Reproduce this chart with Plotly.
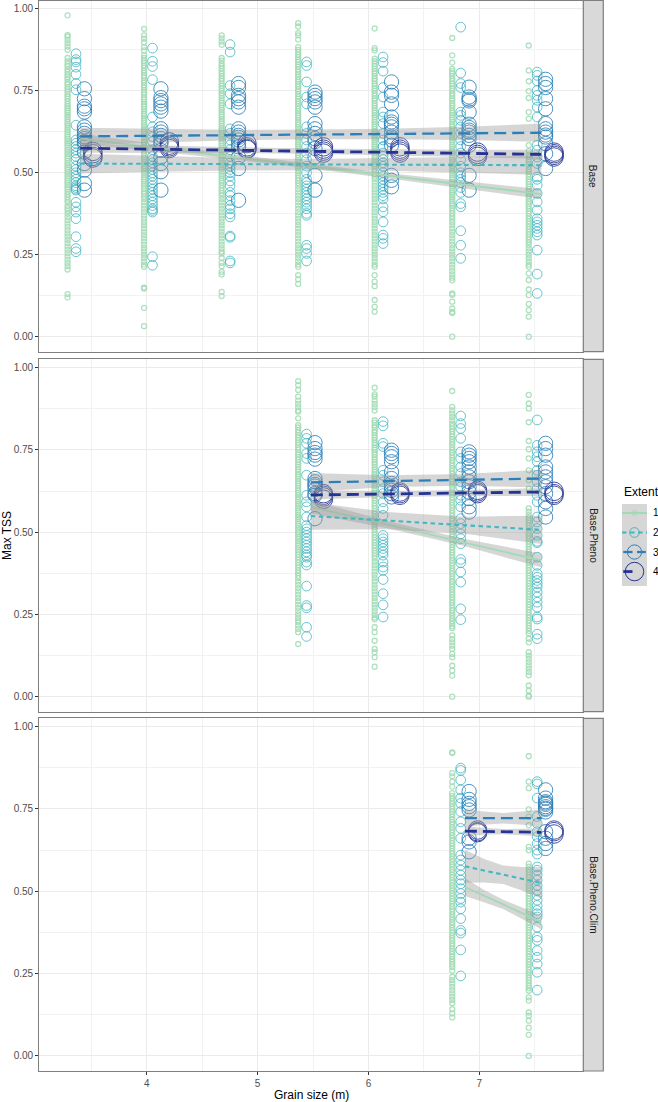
import plotly.graph_objects as go

GRAINS = [3.40, 4.09, 4.79, 5.48, 6.17, 6.87, 7.56]
EXTENTS = ["1", "2", "3", "4"]
DODGE = [-0.114, -0.038, 0.038, 0.114]
COLORS = ["#a1dab4", "#41b6c4", "#2c7fb8", "#253494"]
PANELS = ["Base", "Base.Pheno", "Base.Pheno.Clim"]
Y_TICKS = [0, 0.25, 0.5, 0.75, 1]
X_TICKS = [4, 5, 6, 7]

# Panel 1, one list per grain size
P1_E1 = [
 [.98,.92,.915,.905,.895,.885,.875,.85,.84,.832,.825,.815,.808,.80,.792,.785,.776,.77,.762,.755,.748,.74,.733,.726,.718,.71,.703,.697,.69,.683,.676,.67,.663,.656,.65,.644,.637,.63,.624,.617,.61,.604,.597,.59,.584,.577,.57,.564,.557,.55,.544,.537,.53,.524,.517,.51,.503,.497,.49,.483,.476,.47,.463,.456,.45,.442,.434,.426,.418,.41,.40,.392,.384,.375,.365,.355,.345,.335,.325,.315,.305,.295,.285,.275,.265,.255,.245,.235,.225,.215,.205,.13,.12],
 [.939,.919,.909,.898,.883,.873,.858,.85,.842,.835,.827,.82,.812,.805,.797,.79,.782,.775,.767,.76,.752,.745,.738,.73,.723,.716,.709,.702,.695,.688,.68,.674,.667,.66,.653,.646,.64,.633,.626,.62,.613,.606,.6,.593,.586,.58,.573,.566,.56,.553,.546,.54,.533,.526,.52,.513,.506,.5,.493,.486,.48,.473,.466,.46,.452,.444,.436,.428,.42,.41,.40,.39,.38,.37,.36,.35,.34,.33,.32,.31,.30,.29,.28,.27,.26,.25,.24,.23,.22,.213,.15,.147,.088,.032],
 [.919,.91,.90,.89,.85,.842,.833,.826,.818,.81,.803,.795,.787,.78,.772,.765,.757,.75,.743,.736,.728,.72,.713,.706,.698,.692,.685,.678,.671,.664,.657,.65,.643,.636,.63,.623,.616,.61,.603,.596,.59,.583,.576,.57,.563,.556,.55,.543,.536,.53,.523,.516,.51,.503,.496,.49,.483,.476,.47,.462,.454,.446,.438,.43,.42,.41,.40,.39,.38,.37,.36,.35,.34,.33,.32,.31,.30,.29,.28,.27,.26,.254,.24,.225,.215,.198,.19,.137,.124],
 [.956,.946,.926,.919,.906,.883,.875,.868,.86,.853,.845,.838,.83,.823,.815,.808,.80,.792,.785,.778,.77,.763,.755,.748,.74,.733,.726,.718,.71,.703,.696,.689,.682,.675,.668,.661,.654,.647,.64,.633,.626,.62,.613,.606,.6,.593,.586,.58,.573,.566,.56,.553,.546,.54,.533,.526,.52,.513,.506,.5,.492,.484,.476,.468,.46,.45,.44,.43,.42,.41,.40,.39,.38,.37,.36,.35,.34,.33,.32,.31,.30,.29,.28,.27,.26,.25,.24,.23,.22,.213,.188,.175,.161],
 [.94,.88,.873,.848,.84,.832,.825,.817,.81,.803,.795,.787,.78,.772,.765,.757,.75,.742,.735,.727,.72,.712,.705,.698,.69,.683,.676,.669,.662,.655,.648,.641,.634,.627,.62,.613,.606,.6,.593,.586,.58,.573,.566,.56,.553,.546,.54,.533,.526,.52,.512,.504,.496,.488,.48,.47,.46,.45,.44,.43,.42,.41,.40,.39,.38,.37,.36,.35,.34,.33,.32,.31,.30,.29,.28,.27,.26,.25,.24,.23,.22,.213,.188,.168,.154,.112,.091,.076],
 [.911,.858,.836,.817,.81,.803,.795,.787,.78,.772,.765,.757,.75,.742,.735,.727,.72,.712,.705,.698,.69,.683,.676,.669,.662,.655,.648,.641,.634,.627,.62,.613,.606,.6,.593,.586,.58,.573,.566,.56,.553,.546,.54,.533,.526,.52,.513,.506,.5,.493,.486,.48,.473,.466,.46,.453,.446,.44,.433,.426,.42,.413,.406,.40,.392,.384,.376,.368,.36,.35,.34,.33,.32,.31,.30,.29,.28,.27,.26,.25,.24,.23,.22,.21,.20,.19,.18,.172,.132,.128,.107,.086,.076,.072,0],
 [.888,.812,.779,.749,.728,.685,.665,.584,.566,.555,.548,.54,.533,.526,.518,.51,.503,.496,.488,.48,.473,.466,.458,.45,.443,.436,.428,.42,.413,.406,.398,.39,.383,.376,.368,.36,.352,.344,.336,.328,.32,.312,.304,.296,.288,.28,.27,.26,.25,.24,.23,.22,.213,.193,.173,.144,.127,.10,.081,.061,0],
]
P1_E2 = [
 [.863,.845,.838,.822,.80,.772,.753,.645,.60,.59,.58,.57,.56,.55,.54,.52,.51,.50,.49,.48,.47,.46,.455,.45,.447,.41,.396,.38,.36,.305,.269,.259],
 [.88,.84,.824,.784,.67,.64,.625,.61,.595,.57,.55,.54,.53,.52,.51,.50,.49,.48,.47,.46,.45,.44,.43,.42,.41,.40,.39,.385,.38,.244,.218],
 [.891,.868,.766,.741,.71,.634,.62,.60,.585,.57,.55,.53,.52,.51,.50,.49,.475,.46,.44,.43,.415,.40,.39,.375,.365,.307,.303,.231,.225],
 [.838,.827,.777,.731,.71,.64,.62,.60,.58,.56,.54,.52,.50,.48,.47,.46,.45,.44,.43,.42,.41,.40,.39,.37,.376,.279,.269,.254,.231],
 [.853,.836,.81,.76,.731,.685,.67,.65,.62,.60,.58,.56,.54,.579,.55,.53,.52,.50,.49,.48,.47,.46,.45,.44,.43,.42,.396,.381,.35,.31,.30,.284],
 [.944,.804,.772,.76,.685,.675,.66,.64,.62,.60,.58,.56,.54,.52,.50,.49,.48,.47,.455,.44,.406,.396,.323,.279,.239],
 [.807,.797,.78,.751,.736,.721,.70,.67,.584,.569,.548,.528,.487,.48,.462,.437,.411,.386,.36,.35,.34,.33,.32,.31,.264,.191,.132],
]
P1_E3 = [
 [.756,.726,.703,.695,.685,.64,.63,.62,.61,.604,.595,.589,.563,.528,.508,.467,.447],
 [.756,.729,.72,.71,.70,.688,.634,.624,.614,.604,.595,.589,.568,.548,.528,.503,.447],
 [.772,.76,.736,.726,.716,.70,.634,.624,.614,.608,.60,.59,.579,.548,.513,.416],
 [.746,.736,.726,.716,.70,.65,.634,.62,.604,.595,.574,.548,.492,.447],
 [.777,.746,.736,.71,.67,.655,.648,.64,.624,.609,.60,.584,.492,.477,.457],
 [.761,.731,.724,.719,.685,.648,.638,.63,.624,.614,.604,.584,.492,.447],
 [.785,.772,.76,.726,.695,.65,.634,.624,.615,.609,.589,.558,.513],
]
P1_E4 = [
 [.565,.558,.55,.545],
 [.594,.584,.579,.574],
 [.589,.579,.574,.571],
 [.579,.572,.566,.56],
 [.579,.572,.566,.56],
 [.563,.556,.55],
 [.563,.558,.553,.548],
]
# Panel 2, grains 5.48 to 7.56
P2_E1 = [
 [.959,.947,.932,.912,.90,.89,.88,.87,.866,.846,.825,.818,.81,.803,.795,.787,.78,.772,.765,.757,.75,.743,.736,.728,.72,.713,.706,.698,.69,.683,.676,.669,.662,.655,.648,.641,.634,.627,.62,.613,.606,.6,.593,.586,.58,.573,.566,.56,.553,.546,.54,.533,.526,.52,.513,.506,.5,.493,.486,.48,.473,.466,.46,.453,.446,.44,.432,.424,.416,.408,.40,.392,.384,.376,.368,.36,.35,.34,.33,.32,.31,.30,.29,.28,.27,.26,.25,.24,.232,.226,.216,.206,.196,.16],
 [.939,.919,.912,.90,.89,.88,.87,.84,.833,.825,.818,.81,.803,.795,.787,.78,.772,.765,.757,.75,.743,.736,.728,.72,.713,.706,.698,.69,.683,.676,.669,.662,.655,.648,.641,.634,.627,.62,.612,.604,.596,.588,.58,.572,.564,.556,.548,.54,.532,.524,.516,.508,.50,.492,.484,.476,.468,.46,.452,.444,.436,.428,.42,.41,.40,.39,.38,.37,.36,.35,.34,.33,.32,.31,.30,.29,.28,.27,.26,.25,.24,.235,.211,.196,.17,.145,.135,.12,.091],
 [.929,.881,.87,.86,.85,.84,.83,.822,.814,.806,.798,.79,.782,.774,.766,.758,.75,.742,.734,.726,.718,.71,.702,.694,.686,.678,.67,.662,.654,.646,.638,.63,.622,.614,.606,.598,.59,.582,.574,.566,.558,.55,.542,.534,.526,.518,.51,.502,.494,.486,.478,.47,.462,.454,.446,.438,.43,.422,.414,.406,.398,.39,.382,.374,.366,.358,.35,.342,.334,.326,.318,.31,.302,.294,.286,.278,.27,.262,.254,.246,.238,.23,.222,.214,.208,.186,.175,.165,.155,.145,.13,.12,.094,.079,.064,0],
 [.917,.891,.876,.834,.777,.752,.724,.688,.658,.632,.572,.562,.552,.544,.536,.528,.52,.512,.504,.496,.488,.48,.472,.464,.456,.448,.44,.432,.424,.416,.408,.40,.392,.384,.376,.368,.36,.352,.344,.336,.328,.32,.312,.304,.296,.288,.28,.272,.264,.256,.248,.24,.232,.224,.216,.208,.20,.192,.176,.165,.135,.125,.115,.105,.095,.085,.075,.065,.034,.018,.003,0],
]
P2_E2 = [
 [.798,.785,.77,.739,.724,.673,.612,.592,.577,.546,.52,.51,.50,.49,.48,.47,.46,.45,.44,.43,.424,.409,.40,.336,.277,.27,.211,.183],
 [.836,.823,.77,.76,.688,.673,.653,.632,.617,.592,.572,.551,.49,.48,.47,.46,.45,.44,.43,.409,.394,.384,.356,.313,.279,.242],
 [.853,.83,.815,.785,.744,.724,.698,.678,.653,.638,.612,.597,.577,.541,.526,.511,.495,.48,.465,.417,.407,.379,.348,.267,.234],
 [.841,.764,.744,.729,.714,.688,.673,.653,.632,.612,.592,.546,.531,.511,.49,.472,.468,.424,.399,.374,.363,.353,.343,.333,.318,.303,.287,.272,.242,.236,.19,.176],
]
P2_E3 = [
 [.772,.754,.742,.734,.722,.663,.653,.645,.64,.63,.617,.612,.541],
 [.749,.739,.729,.714,.683,.663,.648,.638,.627,.617,.607],
 [.744,.734,.724,.714,.698,.683,.668,.653,.638,.622,.602,.577,.561],
 [.77,.754,.734,.698,.683,.668,.653,.638,.617,.592,.572,.546],
]
P2_E4 = [
 [.617,.612,.607,.60],
 [.622,.617,.612],
 [.627,.622,.617],
 [.624,.617,.612],
]
# Panel 3, grains 6.87 and 7.56
P3_E1 = [
 [.922,.92,.859,.849,.833,.818,.798,.79,.782,.774,.766,.758,.75,.742,.734,.726,.718,.71,.702,.694,.686,.678,.67,.662,.654,.646,.638,.63,.622,.614,.606,.598,.59,.582,.574,.566,.558,.55,.542,.534,.526,.518,.51,.502,.494,.486,.478,.47,.462,.454,.446,.438,.43,.422,.414,.406,.398,.39,.382,.374,.366,.358,.35,.342,.334,.326,.318,.31,.302,.294,.286,.278,.27,.259,.24,.23,.22,.21,.20,.19,.18,.17,.16,.142,.129,.117],
 [.91,.833,.813,.749,.727,.701,.635,.625,.584,.575,.566,.558,.55,.542,.534,.526,.518,.51,.502,.494,.486,.478,.47,.462,.454,.446,.438,.43,.422,.414,.406,.398,.39,.382,.374,.366,.358,.35,.342,.334,.326,.318,.31,.302,.294,.286,.278,.27,.262,.254,.246,.238,.23,.222,.214,.206,.198,.178,.168,.132,.122,.107,.086,.064,0],
]
P3_E2 = [
 [.874,.867,.838,.808,.783,.767,.742,.711,.691,.661,.61,.595,.579,.564,.549,.534,.523,.508,.493,.478,.467,.447,.417,.381,.373,.322,.243],
 [.833,.826,.783,.727,.706,.681,.666,.645,.625,.613,.574,.564,.549,.534,.518,.503,.488,.473,.457,.442,.432,.422,.391,.361,.351,.32,.30,.279,.254,.20],
]
P3_E3 = [
 [.803,.779,.767,.757,.747,.661,.65,.62],
 [.808,.783,.772,.768,.764,.757,.752,.749,.741,.681,.661,.645,.63],
]
P3_E4 = [
 [.686,.681,.678],
 [.686,.681,.674],
]

# Fitted trend lines and their ribbons (half width)
FIT1_X = GRAINS
FIT1 = [[.604,.576,.548,.520,.491,.463,.435],
        [.528,.527,.526,.525,.525,.524,.523],
        [.611,.613,.615,.617,.618,.620,.622],
        [.575,.572,.569,.566,.562,.559,.556]]
HW1 = [[.016,.011,.008,.007,.008,.011,.015],
       [.030,.024,.019,.017,.019,.024,.030],
       [.026,.020,.016,.015,.016,.020,.028],
       [.014,.011,.009,.008,.009,.011,.014]]
FIT2_X = [5.48, 6.17, 6.87, 7.56]
FIT2 = [[.577,.523,.468,.414],
        [.549,.535,.521,.507],
        [.651,.655,.659,.663],
        [.613,.616,.619,.622]]
HW2 = [[.020,.011,.011,.021],
       [.042,.026,.026,.043],
       [.029,.018,.018,.027],
       [.014,.009,.009,.012]]
FIT3_X = [6.87, 7.04, 7.215, 7.39, 7.56]
FIT3 = [[.513,.486,.460,.433,.406],
        [.576,.563,.550,.538,.525],
        [.722,.722,.722,.722,.722],
        [.683,.682,.681,.680,.679]]
HW3 = [[.027,.019,.014,.017,.021],
       [.050,.036,.028,.036,.048],
       [.027,.020,.016,.020,.027],
       [.014,.010,.008,.010,.012]]

PTS = [
    [P1_E1, P1_E2, P1_E3, P1_E4],
    [P2_E1, P2_E2, P2_E3, P2_E4],
    [P3_E1, P3_E2, P3_E3, P3_E4],
]
PANEL_GRAINS = [GRAINS, GRAINS[3:], GRAINS[5:]]
FITS = [(FIT1_X, FIT1, HW1), (FIT2_X, FIT2, HW2), (FIT3_X, FIT3, HW3)]

W, H = 658, 1102
SIZES = [5, 9.7, 14.3, 18.5]
STROKE = [1.3, 1, 1, 1]
LINE_W = [1.9, 2.1, 2.3, 2.8]
DASH = ["solid", "4.5px,3.5px", "12px,6px", "12px,6px"]
OPAC = [0.85, 0.8, 0.85, 0.85]
RIBBON = "rgba(153,153,153,0.4)"

fig = go.Figure()
for p in range(3):
    ax = "" if p == 0 else str(p + 1)
    for e in range(4):
        xs, ys = [], []
        for g, vals in zip(PANEL_GRAINS[p], PTS[p][e]):
            xs += [g + DODGE[e]] * len(vals)
            ys += vals
        fig.add_trace(go.Scatter(
            x=xs, y=ys, mode="markers", xaxis="x" + ax, yaxis="y" + ax, showlegend=False,
            marker=dict(symbol="circle-open", size=SIZES[e], color=COLORS[e],
                        opacity=OPAC[e], line=dict(width=STROKE[e], color=COLORS[e]))))
    fx, fit, hw = FITS[p]
    for e in range(4):
        upper = [f + h for f, h in zip(fit[e], hw[e])]
        lower = [f - h for f, h in zip(fit[e], hw[e])]
        fig.add_trace(go.Scatter(
            x=list(fx) + list(fx)[::-1], y=upper + lower[::-1], mode="lines", fill="toself",
            fillcolor=RIBBON, line=dict(width=0), xaxis="x" + ax, yaxis="y" + ax,
            showlegend=False, hoverinfo="skip"))
        fig.add_trace(go.Scatter(
            x=fx, y=fit[e], mode="lines", xaxis="x" + ax, yaxis="y" + ax, showlegend=False,
            line=dict(color=COLORS[e], width=LINE_W[e], dash=DASH[e])))

# Legend keys, on their own small axes
LEG_ROWS = [1, 2, 3, 4]
LEG_X = [[0, 1], [0, 1], [0.05, 0.42, None, 0.6, 0.95], [0.05, 0.42]]
for e in range(4):
    y = [LEG_ROWS[e] if v is not None else None for v in LEG_X[e]]
    fig.add_trace(go.Scatter(x=LEG_X[e], y=y, mode="lines", xaxis="x4", yaxis="y4", showlegend=False,
                             line=dict(color=COLORS[e], width=LINE_W[e], dash=DASH[e] if e == 1 else "solid")))
    fig.add_trace(go.Scatter(x=[0.5], y=[LEG_ROWS[e]], mode="markers", xaxis="x4", yaxis="y4", showlegend=False,
                             marker=dict(symbol="circle-open", size=SIZES[e], color=COLORS[e],
                                         line=dict(width=1, color=COLORS[e]))))

X0, X1, STRIP1 = 39.3, 583.3, 603.3
XR = [3.031, 7.938]
YR = [-0.0457, 1.0253]
PANEL_PX = [(0.5, 351.7), (359.3, 711.7), (718.3, 1071.0)]
GRID = "#EBEBEB"
TICKC = "#333333"
BORDER = "#7F7F7F"
FONT = "Liberation Sans, Arial, Helvetica, sans-serif"

layout = dict(width=W, height=H, margin=dict(l=0, r=0, t=0, b=0, pad=0), paper_bgcolor="white",
              plot_bgcolor="white", showlegend=False, font=dict(family=FONT, color="#000000"),
              shapes=[], annotations=[])
for p in range(3):
    top, bot = PANEL_PX[p]
    k = "" if p == 0 else str(p + 1)
    layout["xaxis" + k] = dict(
        domain=[X0 / W, X1 / W], range=XR, anchor="y" + k, tickvals=X_TICKS, ticktext=[str(t) for t in X_TICKS],
        showticklabels=p == 2, ticks="outside" if p == 2 else "", ticklen=3, tickwidth=1, tickcolor=TICKC,
        tickfont=dict(size=10, color="#4D4D4D"), showgrid=True, gridcolor=GRID, gridwidth=1, zeroline=False,
        showline=True, mirror=True, linecolor=BORDER, linewidth=1.2,
        minor=dict(tickvals=[3.5, 4.5, 5.5, 6.5, 7.5], showgrid=True, gridcolor="#F2F2F2", gridwidth=0.6, ticks=""))
    layout["yaxis" + k] = dict(
        domain=[1 - bot / H, 1 - top / H], range=YR, anchor="x" + k, tickvals=Y_TICKS, tickformat=".2f",
        ticks="outside", ticklen=3, tickwidth=1, tickcolor=TICKC, tickfont=dict(size=10, color="#4D4D4D"),
        showgrid=True, gridcolor=GRID, gridwidth=1, zeroline=False,
        showline=True, mirror=True, linecolor=BORDER, linewidth=1.2,
        minor=dict(tickvals=[.125, .375, .625, .875], showgrid=True, gridcolor="#F2F2F2", gridwidth=0.6, ticks=""))
    layout["shapes"].append(dict(type="rect", xref="paper", yref="paper", x0=X1 / W, x1=STRIP1 / W,
                                 y0=1 - bot / H, y1=1 - top / H, fillcolor="#D9D9D9",
                                 line=dict(color=BORDER, width=1.2), layer="above"))
    layout["annotations"].append(dict(text=PANELS[p], xref="paper", yref="paper", x=(X1 + STRIP1) / 2 / W,
                                      y=1 - (top + bot) / 2 / H, textangle=90, showarrow=False,
                                      xanchor="center", yanchor="middle",
                                      font=dict(size=10, color="#1A1A1A")))

# Legend block
LX0, LX1, LY0, LY1 = 622.0, 647.0, 504.0, 586.0
layout["shapes"].append(dict(type="rect", xref="paper", yref="paper", x0=LX0 / W, x1=LX1 / W,
                             y0=1 - LY1 / H, y1=1 - LY0 / H, fillcolor="#D6D6D6", line=dict(width=0), layer="below"))
layout["xaxis4"] = dict(domain=[LX0 / W, LX1 / W], range=[0, 1], anchor="y4", visible=False)
layout["yaxis4"] = dict(domain=[1 - LY1 / H, 1 - LY0 / H], range=[4.74, 0.54], anchor="x4", side="right",
                        tickvals=LEG_ROWS, ticktext=EXTENTS, showgrid=False, zeroline=False, showline=False,
                        ticks="", ticklabelstandoff=5, tickfont=dict(size=10, color="#000000"))
layout["annotations"] += [
    dict(text="Extent", xref="paper", yref="paper", x=621.5 / W, y=1 - 492 / H, xanchor="left", yanchor="middle",
         showarrow=False, font=dict(size=12, color="#000000")),
    dict(text="Max TSS", xref="paper", yref="paper", x=6.5 / W, y=1 - 535.5 / H, textangle=-90, showarrow=False,
         xanchor="center", yanchor="middle", font=dict(size=12, color="#000000")),
    dict(text="Grain size (m)", xref="paper", yref="paper", x=311.3 / W, y=1 - 1094.5 / H, showarrow=False,
         xanchor="center", yanchor="middle", font=dict(size=12, color="#000000")),
]
fig.update_layout(**layout)
fig.write_html("out.html", config={"displayModeBar": False},
               post_script="document.body.style.margin='0';document.body.style.overflow='hidden';")
